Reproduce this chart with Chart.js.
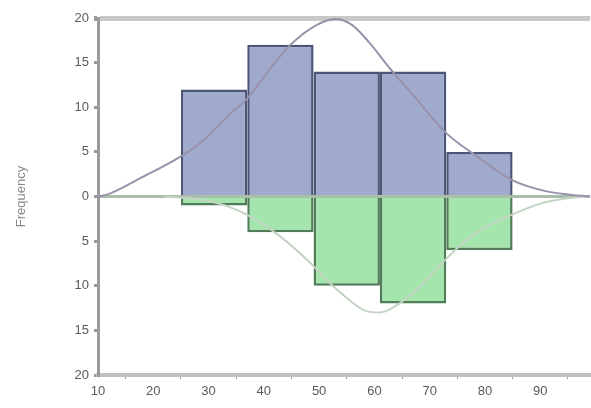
<!DOCTYPE html>
<html>
<head>
<meta charset="utf-8">
<style>
  html, body { margin: 0; padding: 0; background: #fff; }
  #wrap { width: 591px; height: 408px; }
  canvas { filter: blur(0.7px); }
</style>
</head>
<body>
<div id="wrap"><canvas id="hist"></canvas></div>
<script src="https://cdn.jsdelivr.net/npm/chart.js"></script>
<script>
// bin centres (bins 12 wide: 25-37, 37-49, 49-61, 61-73, 73-85)
const binCenters = [31, 43, 55, 67, 79];
const upperCounts = [12, 17, 14, 14, 5];
const lowerCounts = [-1, -4, -10, -12, -6];

// fitted curves
const upperCurveX = [10, 12, 17.5, 25, 28.5, 34, 37, 41, 44.5, 49.5, 53, 56, 59, 63, 67.5, 73, 79, 85, 91, 97, 99];
const upperCurveY = [0, 0.3, 2, 4.5, 6, 9.3, 11, 14.2, 16.8, 19.2, 19.9, 19.2, 17.3, 14.2, 11, 7.1, 4.3, 1.8, 0.6, 0.1, 0];
const lowerCurveX = [22, 28, 33, 38, 43, 48, 53, 58, 61, 64, 68, 72, 76, 80, 85, 90, 95, 99];
const lowerCurveY = [0, -0.3, -1, -2.4, -4.5, -7.2, -10.3, -12.7, -13, -12.2, -10.2, -7.6, -5.2, -3.5, -2, -0.8, -0.2, 0];

const yTicks = [-20, -15, -10, -5, 0, 5, 10, 15, 20];
const xTicks = [10, 20, 30, 40, 50, 60, 70, 80, 90];

const toPts = (xs, ys) => xs.map((x, i) => ({x: x, y: ys[i]}));

const ctx = document.getElementById('hist').getContext('2d');
new Chart(ctx, {
  type: 'bar',
  data: {
    datasets: [
      {
        type: 'line',
        data: toPts(upperCurveX, upperCurveY),
        borderColor: '#9a92aa',
        borderWidth: 2,
        pointRadius: 0,
        cubicInterpolationMode: 'monotone',
        fill: false,
        order: 0
      },
      {
        type: 'line',
        data: toPts(lowerCurveX, lowerCurveY),
        borderColor: '#c4d4c4',
        borderWidth: 2,
        pointRadius: 0,
        cubicInterpolationMode: 'monotone',
        fill: false,
        order: 0
      },
      {
        data: toPts(binCenters, upperCounts),
        backgroundColor: 'rgba(146,158,198,0.88)',
        borderColor: '#4b5676',
        borderWidth: 2.5,
        grouped: false,
        barPercentage: 1,
        categoryPercentage: 1.2, // bin width 12 vs tick step 10
        order: 1
      },
      {
        data: toPts(binCenters, lowerCounts),
        backgroundColor: 'rgba(154,226,164,0.9)',
        borderColor: '#507c58',
        borderWidth: 2.5,
        grouped: false,
        barPercentage: 1,
        categoryPercentage: 1.2,
        order: 1
      }
    ]
  },
  options: {
    responsive: true,
    maintainAspectRatio: false,
    animation: false,
    layout: { padding: { top: 18, right: 1 } },
    plugins: { legend: { display: false }, tooltip: { enabled: false } },
    scales: {
      x: {
        type: 'linear',
        min: 10,
        max: 99,
        offset: false,
        afterBuildTicks: s => { s.ticks = xTicks.map(v => ({value: v})); },
        afterFit: s => { s.height = 33; },
        ticks: { color: '#5a5a5a', font: { size: 13, family: 'Liberation Sans' }, padding: 5 },
        grid: { display: true, drawOnChartArea: false, tickLength: 4, color: '#999' },
        border: { color: '#c0c0c0', width: 4 }
      },
      y: {
        min: -20,
        max: 20,
        afterBuildTicks: s => { s.ticks = yTicks.map(v => ({value: v})); },
        afterFit: s => { s.width = 98; },
        ticks: {
          color: '#5a5a5a',
          font: { size: 13, family: 'Liberation Sans' },
          padding: 5,
          callback: v => String(Math.abs(v))
        },
        grid: {
          tickLength: 4,
          color: c => c.tick.value === 20 ? '#c8c8c8' : (c.tick.value === 0 ? '#a9bfa9' : 'rgba(0,0,0,0)'),
          lineWidth: c => c.tick.value === 20 ? 5 : 3,
          tickColor: '#999'
        },
        border: { color: '#9a9a9a', width: 3 },
        title: {
          display: true,
          text: 'Frequency',
          color: '#888',
          font: { size: 13, family: 'Liberation Sans' },
          padding: { top: 14, bottom: 0 }
        }
      }
    }
  }
});
</script>
</body>
</html>
